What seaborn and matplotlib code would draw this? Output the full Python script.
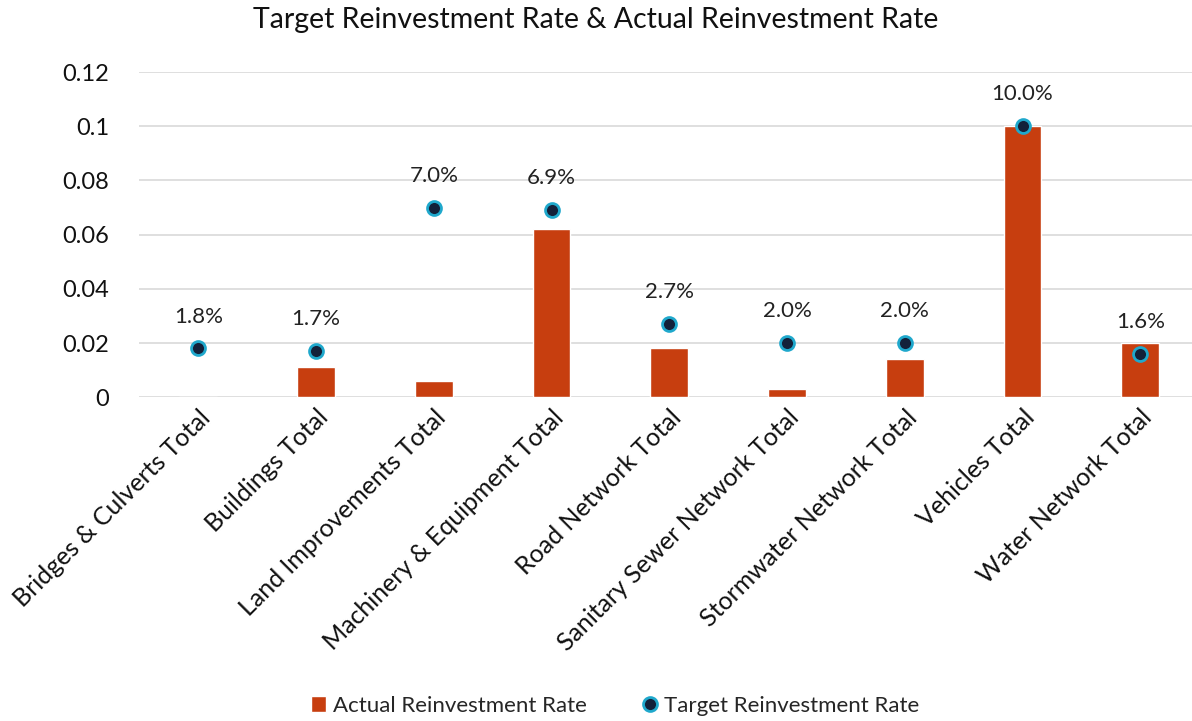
import numpy as np
import pandas as pd
import seaborn as sns
import matplotlib.pyplot as plt

# Dados
categorias = ["Bridges & Culverts Total", "Buildings Total", "Land Improvements Total",
              "Machinery & Equipment Total", "Road Network Total",
              "Sanitary Sewer Network Total", "Stormwater Network Total",
              "Vehicles Total", "Water Network Total"]
taxa_real = [0.0, 0.011, 0.006, 0.062, 0.018, 0.003, 0.014, 0.100, 0.020]
taxa_alvo = [0.018, 0.017, 0.070, 0.069, 0.027, 0.020, 0.020, 0.100, 0.016]

df = pd.DataFrame({"Categoria": categorias, "Real": taxa_real, "Alvo": taxa_alvo})

sns.set_style("white")
plt.rcParams['font.family'] = ['Lato', 'DejaVu Sans']

fig = plt.figure(figsize=(11.92, 7.21), dpi=100)
ax = fig.add_axes([0.117, 0.449, 0.889, 0.451])

sns.barplot(data=df, x="Categoria", y="Real", color="#C73E0F", width=0.32,
            saturation=1, ax=ax, label="Actual Reinvestment Rate", zorder=2)
ax.plot(np.arange(len(categorias)), df["Alvo"], linestyle="none", marker="o",
        markersize=10, markerfacecolor="#13213A", markeredgecolor="#1FA8CC",
        markeredgewidth=2, label="Target Reinvestment Rate", zorder=3)
if ax.get_legend() is not None:
    ax.get_legend().remove()

for i, v in enumerate(taxa_alvo):
    ax.annotate(f"{v*100:.1f}%", (i, v), xytext=(0, 23), textcoords="offset points",
                ha="center", va="center", fontsize=16, color="#222222")

ax.set_ylim(0, 0.12)
ax.set_yticks([0, 0.02, 0.04, 0.06, 0.08, 0.1, 0.12])
ax.set_yticklabels(["0", "0.02", "0.04", "0.06", "0.08", "0.1", "0.12"])
ax.set_xlim(-0.5, len(categorias) - 0.5)
ax.grid(axis="y", color="#D9D9D9", linewidth=1.2, zorder=0)
ax.set_axisbelow(True)
for s in ax.spines.values():
    s.set_visible(False)
ax.tick_params(axis="both", length=0, colors="#111111")
ax.tick_params(axis="y", pad=22, labelsize=17)
ax.tick_params(axis="x", pad=6, labelsize=18)
plt.setp(ax.get_xticklabels(), rotation=45, ha="right", rotation_mode="anchor")
ax.set_xlabel("")
ax.set_ylabel("")

fig.suptitle("Target Reinvestment Rate & Actual Reinvestment Rate", fontsize=20.5,
             y=0.99, color="#111111")
handles, labels = ax.get_legend_handles_labels()
order = [labels.index("Actual Reinvestment Rate"), labels.index("Target Reinvestment Rate")]
fig.legend([handles[i] for i in order], [labels[i] for i in order],
           loc="center", bbox_to_anchor=(0.516, 0.021), ncol=2, frameon=False,
           fontsize=16, handlelength=0.7, columnspacing=2.5, handletextpad=0.3)

fig.savefig("out.png", dpi=100)
